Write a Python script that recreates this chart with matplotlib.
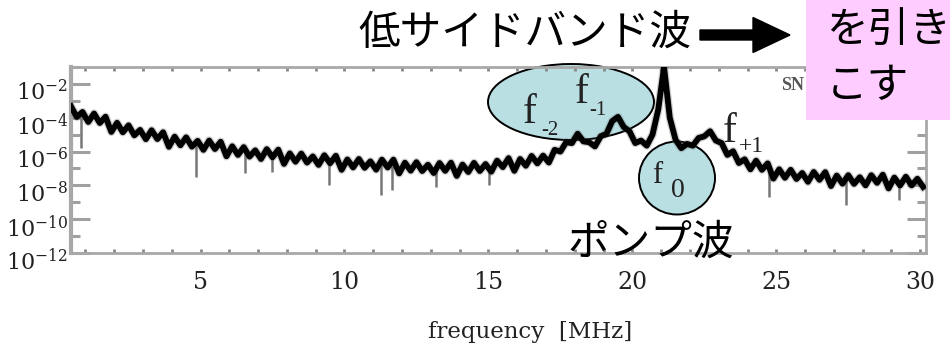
import numpy as np
import matplotlib
matplotlib.use("Agg")
import matplotlib.pyplot as plt
from matplotlib.patches import Ellipse, Rectangle, FancyArrow
from matplotlib.ticker import FixedLocator, NullFormatter
import matplotlib.transforms as mtransforms

plt.rcParams['mathtext.fontset'] = 'custom'
plt.rcParams['mathtext.rm'] = 'DejaVu Serif'

# spectrum analyser sweep, 0.2 MHz step, power in log10 units
freq = np.linspace(0.5, 30.1, 149)
power_log = [
    -3.33, -3.95, -3.66, -4.25, -3.75, -4.31, -3.94, -4.84, -4.30, -4.86,
    -4.45, -5.04, -4.72, -5.27, -4.74, -5.26, -4.86, -5.72, -5.12, -5.63,
    -5.16, -5.71, -5.37, -5.90, -5.35, -5.85, -5.42, -6.28, -5.69, -6.20,
    -5.74, -6.30, -5.93, -6.44, -5.86, -6.34, -5.89, -6.73, -6.11, -6.60,
    -6.12, -6.65, -6.29, -6.79, -6.22, -6.69, -6.25, -7.08, -6.47, -6.94,
    -6.44, -6.96, -6.58, -7.07, -6.48, -6.94, -6.48, -7.29, -6.66, -7.13,
    -6.63, -7.15, -6.78, -7.27, -6.68, -7.14, -6.66, -7.44, -6.77, -7.21,
    -6.67, -7.15, -6.74, -7.19, -6.54, -6.92, -6.39, -7.14, -6.44, -6.84,
    -6.26, -6.70, -6.24, -6.65, -5.90, -6.00, -5.45, -5.50, -4.95, -5.40,
    -5.45, -5.70, -5.10, -4.95, -4.20, -3.95, -4.55, -4.80, -5.50, -5.35,
    -5.65, -5.00, -3.50, -1.00, -4.00, -5.30, -5.80, -5.55, -5.65, -5.20,
    -5.10, -4.80, -5.35, -5.50, -6.20, -5.98, -6.68, -6.46, -7.05, -6.54,
    -7.08, -6.70, -7.60, -7.05, -7.55, -7.08, -7.62, -7.27, -7.79, -7.21,
    -7.67, -7.22, -8.04, -7.42, -7.90, -7.40, -7.91, -7.52, -8.00, -7.40,
    -7.85, -7.37, -8.18, -7.54, -8.00, -7.49, -8.00, -7.61, -8.09,
]

# deep single-sample dropouts in the noise floor
spike_freq = [0.83, 4.83, 6.56, 7.47, 9.45, 11.26, 11.64, 13.17, 15.01, 24.75, 27.43, 29.27]
spike_low = [-5.79, -7.50, -7.27, -7.21, -7.98, -8.57, -8.27, -8.09, -7.98, -8.69, -9.16, -8.86]
spike_top = [-3.90, -5.50, -5.95, -6.15, -6.50, -6.75, -6.78, -6.92, -6.85, -7.00, -7.60, -7.70]

xticks = [5, 10, 15, 20, 25, 30]
ydecades = [-12, -10, -8, -6, -4, -2]

W, H = 950, 346
fig = plt.figure(figsize=(W / 100, H / 100), dpi=100)
ax = fig.add_axes([71 / W, 93 / H, 855 / W, 186 / H])


def fx(x):
    return x / W


def fy(y):
    return 1 - y / H


power = 10.0 ** np.array(power_log)
ax.plot(freq, power, color='#666666', lw=6, alpha=0.3, zorder=2.9)
ax.plot(freq, power, color='black', lw=4.2, zorder=3)
ax.vlines(spike_freq, 10.0 ** np.array(spike_low), 10.0 ** np.array(spike_top),
          color='#777777', lw=1.8, zorder=2.8)

ax.set_yscale('log')
ax.set_xlim(0.5, 30.2)
ax.set_ylim(1e-12, 1e-1)

ax.xaxis.set_major_locator(FixedLocator(xticks))
ax.xaxis.set_minor_locator(FixedLocator(list(range(1, 31))))
ax.set_xticklabels([str(t) for t in xticks], family='DejaVu Serif', fontsize=17, color='#222222')
ax.yaxis.set_major_locator(FixedLocator([10.0 ** d for d in ydecades]))
ax.yaxis.set_minor_locator(FixedLocator([10.0 ** (d + 1) for d in ydecades]))
ax.yaxis.set_minor_formatter(NullFormatter())
ax.set_yticklabels([r'$\mathrm{10^{%d}}$' % d for d in ydecades], fontsize=16, color='#222222')

ax.tick_params(axis='x', which='both', direction='in', top=True, length=3, width=2,
               color='#888888', pad=13)
ax.tick_params(axis='y', which='major', direction='in', right=True, length=13.5, width=2.2,
               color='#a0a0a0', pad=2)
ax.tick_params(axis='y', which='minor', direction='in', right=True, length=6.5, width=2.2,
               color='#a0a0a0')

for side, sp in ax.spines.items():
    sp.set_color('#a8a8a8')
    sp.set_linewidth(3 if side == 'left' else 2)

# nudge decade labels down a little
shift = mtransforms.ScaledTranslation(0, -6 / 100, fig.dpi_scale_trans)
for t in ax.yaxis.get_major_ticks():
    t.label1.set_transform(t.label1.get_transform() + shift)

ax.set_xlabel('frequency  [MHz]', family='DejaVu Serif', fontsize=16.5, color='#222222')
ax.xaxis.set_label_coords((530 - 71) / 855, (253 - 332) / 186)
ax.xaxis.label.set_va('center')

# highlighted sidebands
ax.add_patch(Ellipse((fx(571), fy(102)), 166 / W, 76 / H, transform=fig.transFigure,
                     facecolor='#b9dfe3', edgecolor='black', lw=1.4, zorder=1.5, clip_on=False))
ax.add_patch(Ellipse((fx(677), fy(178)), 76 / W, 73 / H, transform=fig.transFigure,
                     facecolor='#b9dfe3', edgecolor='black', lw=1.4, zorder=1.5, clip_on=False))


def mode_label(x, y, sub, sx, sy, size, subsize):
    ax.text(fx(x), fy(y), 'f', transform=fig.transFigure, family='Liberation Serif',
            fontsize=size, color='#222222', va='baseline', ha='left', zorder=4)
    ax.text(fx(sx), fy(sy), sub, transform=fig.transFigure, family='Liberation Serif',
            fontsize=subsize, color='#222222', va='baseline', ha='left', zorder=4)


mode_label(523, 123, '-2', 541, 135, 30, 15)
mode_label(575, 103, '-1', 589, 115, 30, 15)
mode_label(652, 183, '0', 671, 197, 22, 20)
mode_label(723, 142, '+1', 739, 152, 30, 17)

ax.text(fx(781), fy(86), 'SN', transform=fig.transFigure, family='Liberation Serif',
        fontsize=13, fontweight='bold', color='#555555', va='center', ha='left', zorder=4)

jp = ['Noto Sans CJK JP', 'DejaVu Sans']
fig.text(fx(358), fy(33), '低サイドバンド波', family=jp, fontsize=30, va='center', ha='left')
fig.text(fx(567), fy(243), 'ポンプ波', family=jp, fontsize=30, va='center', ha='left')

fig.add_artist(FancyArrow(fx(700), fy(35), 90 / W, 0, width=10 / H, head_width=35 / H,
                          head_length=37 / W, length_includes_head=True,
                          transform=fig.transFigure, color='black'))

fig.add_artist(Rectangle((fx(806), fy(120)), 144 / W, 120 / H, transform=fig.transFigure,
                         facecolor='#ffccff', edgecolor='none'))
fig.text(fx(826), fy(31), 'を引き', family=jp, fontsize=30, va='center', ha='left')
fig.text(fx(826), fy(86), 'こす', family=jp, fontsize=30, va='center', ha='left')

fig.savefig('out.png', dpi=100)
